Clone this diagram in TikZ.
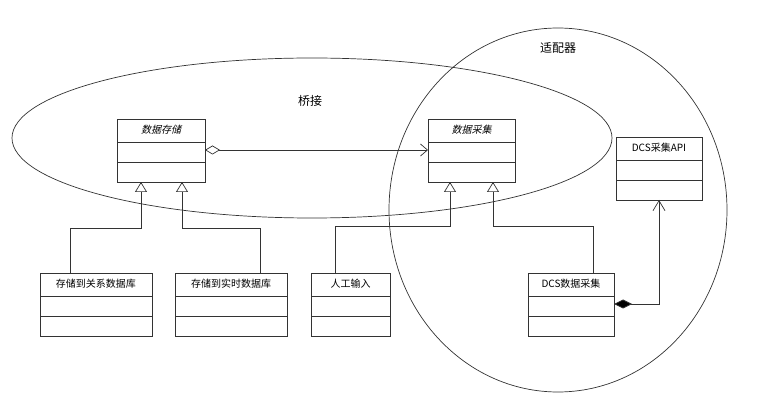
\documentclass[tikz,border=0pt]{standalone}
\usepackage{fontspec}
\newfontfamily\cjk{Noto Sans CJK SC}
\newfontfamily\cjkit{Noto Sans CJK SC}[FakeSlant=0.25]
\usetikzlibrary{arrows.meta}
\begin{document}
\begin{tikzpicture}[x=1pt,y=-1pt,
  ln/.style={draw=black!80,line width=0.7pt},
  hd/.style={font=\fontsize{10}{12}\selectfont},
  inh/.style={ln,-{Triangle[open,width=12pt,length=10pt]}},
  lbl/.style={font=\cjk\fontsize{12}{14}\selectfont}]
\useasboundingbox (0,0) rectangle (769,403);
\draw[ln] (312,138) ellipse [x radius=300, y radius=80];
\draw[ln] (558,210) ellipse [x radius=169, y radius=182];
\node[lbl] (bridge) at (310,101) {桥接};
\node[lbl] (adapter) at (558,48) {适配器};
\newcommand\umlclass[7]{%
  \fill[white] (#2,#3) rectangle (#4,#5);
  \draw[ln] (#2,#3) rectangle (#4,#5);
  \draw[ln] (#2,{#3+23}) -- (#4,{#3+23});
  \draw[ln] (#2,{#3+43}) -- (#4,{#3+43});
  \node[hd,inner sep=0] (#1) at ({(#2+#4)/2},{#3+11}) {#6#7};
  \coordinate (#1-e) at (#4,{#3+31});
  \coordinate (#1-w) at (#2,{#3+31});
  \coordinate (#1-s) at ({(#2+#4)/2},#5);
}
\umlclass{store}{117}{119}{205}{182}{\cjkit}{数据存储}
\umlclass{coll}{428}{119}{515}{182}{\cjkit}{数据采集}
\umlclass{api}{616}{137}{702}{200}{\cjk}{DCS采集API}
\umlclass{rel}{40}{273}{152}{336}{\cjk}{存储到关系数据库}
\umlclass{rt}{175}{273}{287}{336}{\cjk}{存储到实时数据库}
\umlclass{man}{311}{273}{390}{336}{\cjk}{人工输入}
\umlclass{dcs}{528}{273}{614}{336}{\cjk}{DCS数据采集}
\draw[inh] (70,273) -- (70,228) -- (141,228) -- (141,182);
\draw[inh] (260,273) -- (260,228) -- (182,228) -- (182,182);
\draw[inh] (335,273) -- (335,226) -- (450,226) -- (450,182);
\draw[inh] (593,273) -- (593,226) -- (493,226) -- (493,182);
\draw[ln,{Diamond[open,width=9pt,length=15pt]}-{Straight Barb[width=12pt,length=7pt]}] (store-e) -- (coll-w);
\coordinate (c1) at (659,304);
\draw[ln,{Diamond[fill=black,width=9pt,length=18pt]}-{Straight Barb[width=12pt,length=10pt]}] (dcs-e) -- (c1) -- (api-s -| c1);
\end{tikzpicture}
\end{document}
